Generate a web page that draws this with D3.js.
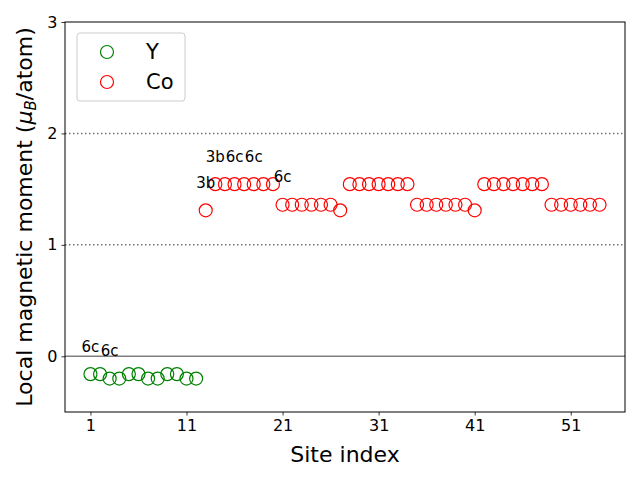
<!DOCTYPE html>
<html><head><meta charset="utf-8">
<script src="https://cdn.jsdelivr.net/npm/d3@7"></script>
<style>body{margin:0;background:#fff;}svg{display:block;font-family:"DejaVu Sans",sans-serif;}</style>
</head><body>
<script>
const yIdx = [1,2,3,4,5,6,7,8,9,10,11,12];
const yVals = [-0.16,-0.16,-0.20,-0.20,-0.16,-0.16,-0.20,-0.20,-0.16,-0.16,-0.20,-0.20];
const coIdx = d3.range(13,55);
const coVals = [1.31,
  1.545,1.545,1.545,1.545,1.545,1.545,1.545,
  1.36,1.36,1.36,1.36,1.36,1.36,1.31,
  1.545,1.545,1.545,1.545,1.545,1.545,1.545,
  1.36,1.36,1.36,1.36,1.36,1.36,1.31,
  1.545,1.545,1.545,1.545,1.545,1.545,1.545,
  1.36,1.36,1.36,1.36,1.36,1.36];
const labelIdx = [1,3,13,14,16,18,21];
const labelText = ["6c","6c","3b","3b","6c","6c","6c"];
const xTicks = [1,11,21,31,41,51];
const yTicks = [0,1,2,3];
const gridVals = [1,2];

const W=640,H=480, L=65,R=625,T=22,B=412;
const svg=d3.select("body").append("svg").attr("width",W).attr("height",H);
const x=d3.scaleLinear().domain([-1.65,56.65]).range([L,R]);
const y=d3.scaleLinear().domain([-0.5,3]).range([B,T]);

const allIdx = yIdx.concat(coIdx), allVals = yVals.concat(coVals);
const valAt = i => allVals[allIdx.indexOf(i)];

// grid
svg.selectAll(".g").data(gridVals).enter().append("line")
  .attr("x1",L).attr("x2",R).attr("y1",d=>y(d)).attr("y2",d=>y(d))
  .attr("stroke","#707070").attr("stroke-width",1.5).attr("stroke-dasharray","1.5,2.5");
svg.append("line").attr("x1",L).attr("x2",R).attr("y1",y(0)).attr("y2",y(0))
  .attr("stroke","#808080").attr("stroke-width",1.5);

// points
svg.selectAll(".py").data(yIdx).enter().append("circle")
  .attr("cx",d=>x(d)).attr("cy",(d,i)=>y(yVals[i])).attr("r",6.5)
  .attr("fill","none").attr("stroke","green").attr("stroke-width",1.2);
svg.selectAll(".pc").data(coIdx).enter().append("circle")
  .attr("cx",d=>x(d)).attr("cy",(d,i)=>y(coVals[i])).attr("r",6.5)
  .attr("fill","none").attr("stroke","red").attr("stroke-width",1.2);

// labels
svg.selectAll(".lb").data(labelIdx).enter().append("text")
  .attr("x",d=>x(d)).attr("y",d=>y(valAt(d)+0.25)).attr("dy","0.35em")
  .attr("text-anchor","middle").attr("font-size",15).text((d,i)=>labelText[i]);

// axes
const xa=svg.append("g").attr("transform",`translate(0,${B})`)
  .call(d3.axisBottom(x).tickValues(xTicks).tickFormat(d3.format("d")).tickSize(3.5).tickPadding(4));
const ya=svg.append("g").attr("transform",`translate(${L},0)`)
  .call(d3.axisLeft(y).tickValues(yTicks).tickFormat(d3.format("d")).tickSize(3.5).tickPadding(4));
[xa,ya].forEach(a=>{a.select(".domain").remove();
  a.selectAll("text").attr("font-size",16).attr("font-family","DejaVu Sans");
  a.selectAll("line").attr("stroke","#000").attr("stroke-width",0.8);});
svg.append("rect").attr("x",L).attr("y",T).attr("width",R-L).attr("height",B-T)
  .attr("fill","none").attr("stroke","#000").attr("stroke-width",1);

// axis labels
svg.append("text").attr("x",(L+R)/2).attr("y",462).attr("text-anchor","middle")
  .attr("font-size",22).text("Site index");
const yl=svg.append("text").attr("transform",`translate(32,${(T+B)/2}) rotate(-90)`)
  .attr("text-anchor","middle").attr("font-size",22);
yl.append("tspan").text("Local magnetic moment (");
yl.append("tspan").attr("font-style","italic").text("μ");
yl.append("tspan").attr("font-style","italic").attr("font-size",15).attr("dy",4).text("B");
yl.append("tspan").attr("dy",-4).text("/atom)");

// legend
const lg=svg.append("g");
lg.append("rect").attr("x",77).attr("y",33).attr("width",108).attr("height",68)
  .attr("rx",3).attr("fill","#fff").attr("fill-opacity",0.8).attr("stroke","#ccc");
const legNames=["Y","Co"], legCols=["green","red"];
legNames.forEach((n,i)=>{
  lg.append("circle").attr("cx",107).attr("cy",52+i*30).attr("r",6.5)
    .attr("fill","none").attr("stroke",legCols[i]).attr("stroke-width",1.2);
  lg.append("text").attr("x",146).attr("y",52+i*30).attr("dy","0.35em")
    .attr("font-size",21).text(n);
});
</script>
</body></html>
